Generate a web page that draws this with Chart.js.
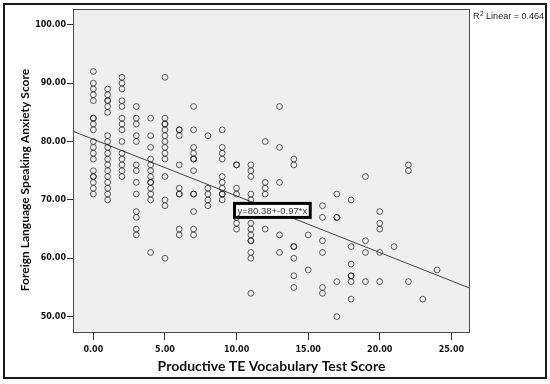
<!DOCTYPE html>
<html>
<head>
<meta charset="utf-8">
<script src="https://cdn.jsdelivr.net/npm/chart.js@4.4.1/dist/chart.umd.min.js"></script>
<style>
    html, body { margin: 0; padding: 0; background: #fff; }
    #wrap { position: relative; width: 550px; height: 384px; }
    #wrap canvas { position: absolute; left: 0; top: 0; }
    #frame { position: absolute; left: 3px; top: 3px; width: 540px; height: 372px; border: 2px solid #1a1a1a; pointer-events: none; }
</style>
</head>
<body>
<div id="wrap">
    <canvas id="scatter" width="550" height="384"></canvas>
    <div id="frame"></div>
</div>
<script>
// Productive TE vocabulary test scores (x) and the anxiety scores seen at each one
const vocabScores = [0, 1, 2, 3, 4, 5, 6, 7, 8, 9, 10, 11, 12, 13, 14, 15, 16, 17, 18, 19, 20, 21, 22, 23, 24];
const anxietyByVocab = [
    [92, 90, 89, 88, 87, 84, 84, 83, 82, 80, 79, 78, 77, 75, 74, 74, 73, 72, 71],
    [89, 88, 87, 87, 86, 85, 81, 80, 79, 78, 77, 76, 75, 74, 73, 72, 71, 70],
    [91, 90, 89, 87, 86, 84, 83, 82, 80, 78, 77, 76, 75, 74],
    [86, 84, 83, 81, 80, 76, 75, 73, 71, 68, 67, 65, 64],
    [84, 81, 79, 77, 76, 75, 74, 73, 73, 72, 71, 70, 61],
    [91, 84, 83, 83, 82, 81, 80, 79, 78, 77, 74, 70, 69, 60],
    [82, 82, 81, 76, 72, 71, 71, 65, 64],
    [86, 82, 79, 78, 77, 77, 75, 71, 71, 68, 65, 64],
    [81, 72, 71, 70, 69],
    [82, 79, 78, 77, 74, 73, 72, 71, 71, 70],
    [76, 76, 72, 71, 67, 66, 65],
    [76, 75, 74, 71, 70, 66, 65, 64, 63, 63, 61, 60, 54],
    [80, 73, 72, 71, 65],
    [86, 79, 73, 64, 61],
    [77, 76, 62, 62, 60, 57, 55],
    [64, 58],
    [69, 67, 63, 61, 55, 54],
    [71, 67, 67, 56, 50],
    [70, 62, 59, 57, 57, 56, 53],
    [74, 63, 61, 56],
    [68, 66, 65, 61, 56],
    [62],
    [76, 75, 56],
    [53],
    [58]
];

const xTicks = [0, 5, 10, 15, 20, 25];
const yTicks = [50, 60, 70, 80, 90, 100];

// linear fit shown on the chart
const fitIntercept = 80.38;
const fitSlope = -0.97;
const rSquared = 0.464;
const fitText = 'y=80.38+-0.97*x';

const xRange = [-1.42, 26.3];
const yRange = [47.2, 102.7];

const points = vocabScores.flatMap((x, i) => anxietyByVocab[i].map(y => ({ x: x, y: y })));
const fitLine = xRange.map(x => ({ x: x, y: fitIntercept + fitSlope * x }));

// grey plot box with a thin frame
const plotBox = {
    id: 'plotBox',
    beforeDraw(chart) {
        const { ctx, chartArea: a } = chart;
        ctx.save();
        ctx.fillStyle = '#efefef';
        ctx.fillRect(a.left, a.top, a.width, a.height);
        ctx.restore();
    },
    beforeDatasetsDraw(chart) {
        const { ctx, chartArea: a } = chart;
        ctx.save();
        ctx.strokeStyle = '#4a4a4a';
        ctx.lineWidth = 1;
        ctx.strokeRect(a.left + 0.5, a.top + 0.5, a.width - 1, a.height - 1);
        ctx.restore();
    }
};

// equation box on the fit line and the R² note at the top right
const fitNotes = {
    id: 'fitNotes',
    afterDatasetsDraw(chart) {
        const { ctx, chartArea: a, scales } = chart;
        const cx = scales.x.getPixelForValue(12.5);
        const cy = scales.y.getPixelForValue(68.2);
        ctx.save();
        ctx.font = '9.5px "Liberation Sans", Arial, sans-serif';
        const w = ctx.measureText(fitText).width + 6;
        const h = 14;
        ctx.fillStyle = '#ffffff';
        ctx.fillRect(cx - w / 2, cy - h / 2, w, h);
        ctx.strokeStyle = '#000';
        ctx.lineWidth = 3;
        ctx.strokeRect(cx - w / 2, cy - h / 2, w, h);
        ctx.fillStyle = '#333';
        ctx.textAlign = 'center';
        ctx.textBaseline = 'middle';
        ctx.fillText(fitText, cx, cy + 0.5);

        // R² Linear label
        let x = a.right + 3;
        const y = 19;
        ctx.textAlign = 'left';
        ctx.textBaseline = 'alphabetic';
        ctx.fillStyle = '#222';
        ctx.font = '9px "Liberation Sans", Arial, sans-serif';
        ctx.fillText('R', x, y);
        x += ctx.measureText('R').width;
        ctx.font = '6.5px "Liberation Sans", Arial, sans-serif';
        ctx.fillText('2', x + 0.5, y - 3.5);
        x += ctx.measureText('2').width + 0.5;
        ctx.font = '9px "Liberation Sans", Arial, sans-serif';
        ctx.fillText(' Linear = ' + rSquared.toFixed(3), x, y);
        ctx.restore();
    }
};

const tickFont = { family: '"DejaVu Sans", Verdana, sans-serif', size: 8, weight: 'bold' };
const titleFont = { family: 'Lato, "Open Sans", sans-serif', weight: 'bold' };

const chart = new Chart(document.getElementById('scatter').getContext('2d'), {
    type: 'scatter',
    data: {
        datasets: [
            {
                label: 'Scores',
                data: points,
                pointStyle: 'circle',
                pointRadius: 2.9,
                pointHoverRadius: 2.9,
                borderWidth: 1,
                borderColor: 'rgba(20,20,20,0.68)',
                backgroundColor: 'rgba(0,0,0,0)'
            },
            {
                type: 'line',
                label: 'Linear fit',
                data: fitLine,
                borderColor: '#444',
                borderWidth: 1,
                pointRadius: 0,
                fill: false
            }
        ]
    },
    options: {
        responsive: false,
        animation: false,
        events: [],
        layout: { padding: { left: 0, right: 80, top: 9, bottom: 0 } },
        plugins: {
            legend: { display: false },
            tooltip: { enabled: false }
        },
        scales: {
            x: {
                type: 'linear',
                min: xRange[0],
                max: xRange[1],
                afterBuildTicks: scale => { scale.ticks = xTicks.map(v => ({ value: v })); },
                afterFit: scale => { scale.height = 51; },
                grid: { drawOnChartArea: false, drawTicks: true, tickLength: 7, tickColor: '#333', tickWidth: 1 },
                border: { display: false },
                ticks: {
                    color: '#111',
                    font: tickFont,
                    padding: 5,
                    maxRotation: 0,
                    callback: v => v.toFixed(2)
                },
                title: {
                    display: true,
                    text: 'Productive TE Vocabulary Test Score',
                    color: '#111',
                    font: Object.assign({ size: 14 }, titleFont),
                    padding: { top: 0, bottom: 9 }
                }
            },
            y: {
                type: 'linear',
                min: yRange[0],
                max: yRange[1],
                afterBuildTicks: scale => { scale.ticks = yTicks.map(v => ({ value: v })); },
                afterFit: scale => { scale.width = 73; },
                grid: { drawOnChartArea: false, drawTicks: true, tickLength: 6, tickColor: '#333', tickWidth: 1 },
                border: { display: false },
                ticks: {
                    color: '#111',
                    font: tickFont,
                    padding: 1,
                    callback: v => v.toFixed(2)
                },
                title: {
                    display: true,
                    text: 'Foreign Language Speaking Anxiety Score\u2002\u2002\u2002',
                    color: '#111',
                    font: Object.assign({ size: 12 }, titleFont),
                    padding: { top: 18, bottom: 0 }
                }
            }
        }
    },
    plugins: [plotBox, fitNotes]
});
</script>
</body>
</html>
